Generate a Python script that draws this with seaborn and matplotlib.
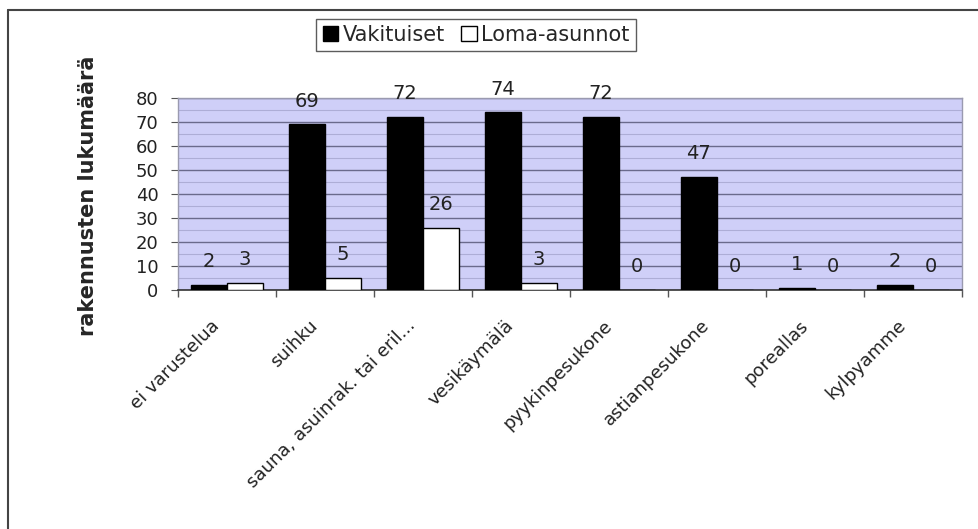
import numpy as np
import pandas as pd
import matplotlib
matplotlib.use('Agg')
import matplotlib.pyplot as plt
import matplotlib.transforms as mtransforms
from matplotlib.lines import Line2D
from matplotlib.patches import Patch
import seaborn as sns

# --- Data ---
categories = ['ei varustelua', 'suihku', 'sauna, asuinrak. tai eril...', 'vesikäymälä',
              'pyykinpesukone', 'astianpesukone', 'poreallas', 'kylpyamme']
vakituiset = [2, 69, 72, 74, 72, 47, 1, 2]
loma_asunnot = [3, 5, 26, 3, 0, 0, 0, 0]
series_names = ['Vakituiset', 'Loma-asunnot']
y_ticks = [0, 10, 20, 30, 40, 50, 60, 70, 80]

# Long table for seaborn
df = pd.DataFrame({
    'kategoria': categories * 2,
    'lukumaara': vakituiset + loma_asunnot,
    'sarja': [series_names[0]] * len(categories) + [series_names[1]] * len(categories),
})

sns.set_style('white')
plt.rcParams['font.family'] = ['DejaVu Sans']

fig = plt.figure(figsize=(9.79, 5.29), dpi=100)
ax = fig.add_axes([0.1818, 0.4518, 0.8008, 0.3629])
ax.set_facecolor('#cfcff8')

sns.barplot(data=df, x='kategoria', y='lukumaara', hue='sarja', order=categories,
            hue_order=series_names, palette=['black', 'white'], width=0.74,
            edgecolor='black', linewidth=1.0, legend=False, ax=ax, zorder=3)

# value labels above the bars
for cont in ax.containers:
    ax.bar_label(cont, padding=10, fontsize=14, color='#222222')

# axes / grid
ax.set_ylim(0, 80)
ax.set_xlim(-0.5, len(categories) - 0.5)
ax.set_yticks(y_ticks)
ax.set_yticklabels([str(v) for v in y_ticks], fontsize=13, color='#222222')
ax.set_yticks(np.arange(5, 80, 10), minor=True)
ax.grid(axis='y', which='major', color='#6a6a8c', linewidth=1.0, zorder=1)
ax.grid(axis='y', which='minor', color='#adadd6', linewidth=0.8, zorder=1)
ax.set_axisbelow(True)
ax.tick_params(axis='y', which='major', left=True, length=5, color='#555555', pad=9)
ax.tick_params(axis='y', which='minor', left=False)

# category boundary tick marks under the x axis
ax.set_xticks(np.arange(len(categories)))
ax.set_xticks(np.arange(-0.5, len(categories), 1), minor=True)
ax.tick_params(axis='x', which='major', bottom=False, length=0)
ax.tick_params(axis='x', which='minor', bottom=True, length=5, color='#555555', width=1)
offset = mtransforms.ScaledTranslation(-10 / 100, -28 / 100, fig.dpi_scale_trans)
ax.set_xticklabels(categories, rotation=45, ha='right', va='center',
                   rotation_mode='anchor', fontsize=13, color='#222222')
for lbl in ax.get_xticklabels():
    lbl.set_transform(lbl.get_transform() + offset)

ax.set_xlabel('')
ax.set_ylabel('')
for side in ['top', 'right', 'left']:
    ax.spines[side].set_color('#9a9ab0')
    ax.spines[side].set_linewidth(1.0)
ax.spines['bottom'].set_color('#333333')
ax.spines['bottom'].set_linewidth(1.2)

# y axis title
fig.text(88 / 979, 1 - 196 / 529, 'rakennusten lukumäärä', rotation=90,
         ha='center', va='center', fontsize=15, fontweight='bold')

# legend
handles = [Patch(facecolor='black', edgecolor='black'),
           Patch(facecolor='white', edgecolor='black')]
leg = fig.legend(handles, series_names, loc='center', bbox_to_anchor=(476 / 979, 1 - 35 / 529),
                 ncol=2, fontsize=15, frameon=True, fancybox=False, handlelength=0.75,
                 handleheight=0.75, handletextpad=0.2, columnspacing=0.8, borderpad=0.3)
leg.get_frame().set_edgecolor('#333333')
leg.get_frame().set_linewidth(1.0)

# outer chart frame (left and top edges visible)
fig.add_artist(Line2D([8 / 979, 8 / 979], [0, 1 - 10 / 529], transform=fig.transFigure,
                      color='#444444', linewidth=1.5))
fig.add_artist(Line2D([8 / 979, 1], [1 - 10 / 529, 1 - 10 / 529], transform=fig.transFigure,
                      color='#444444', linewidth=1.5))

fig.savefig('out.png', dpi=100)
